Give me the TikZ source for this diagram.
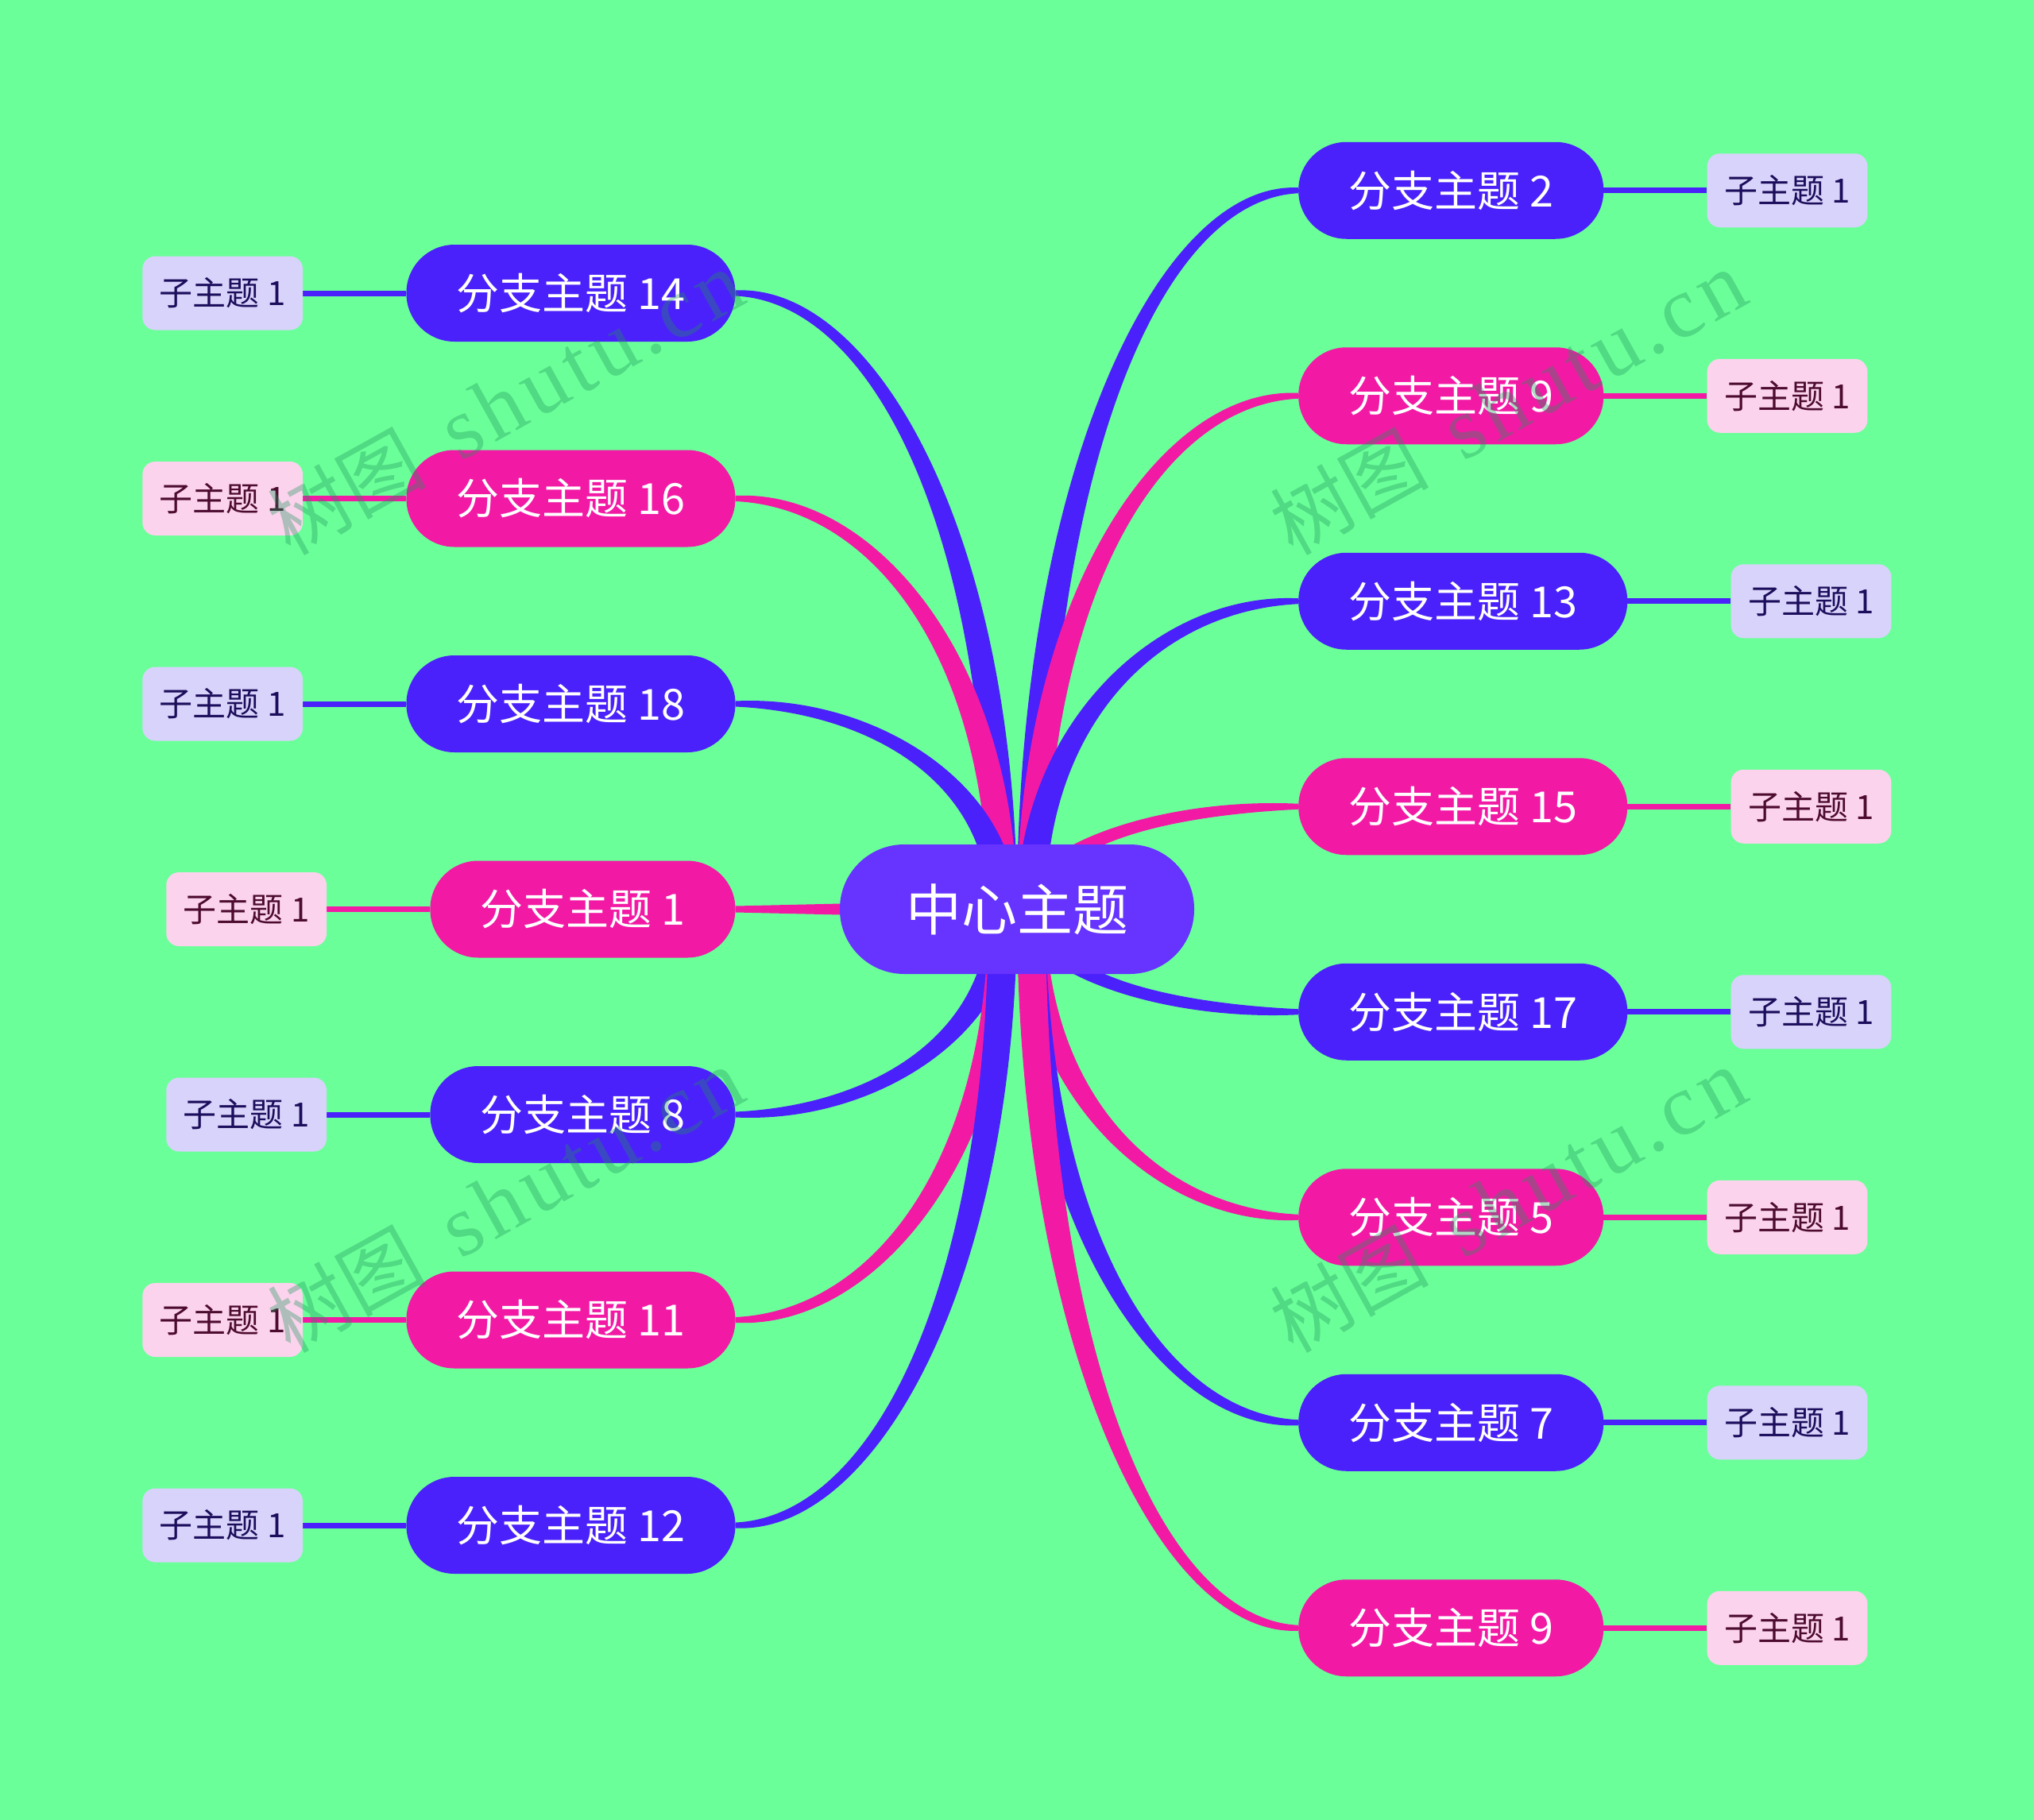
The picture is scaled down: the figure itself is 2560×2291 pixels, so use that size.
\documentclass[tikz,border=0pt]{standalone}
\usepackage{fontspec}
\setmainfont{Noto Sans CJK SC}
\newfontfamily\cjkfont{Noto Sans CJK SC}
\newfontfamily\wmserif[LetterSpace=6]{Liberation Serif}
\usetikzlibrary{positioning,calc,backgrounds}
\definecolor{bgc}{HTML}{6AFF99}
\definecolor{bblue}{HTML}{4A21FA}
\definecolor{bpink}{HTML}{F21AA5}
\definecolor{cpurple}{HTML}{6633FF}
\definecolor{sblue}{HTML}{D8D3FA}
\definecolor{spink}{HTML}{FBD3EC}
\definecolor{tblue}{HTML}{1C0E5C}
\definecolor{tpink}{HTML}{4D0B30}
\definecolor{wmc}{HTML}{1E965A}
\newcommand\tconn[2]{%
  \fill[#1] let \p1=(c.center), \p2=(#2),
    \n1={sign(\x2-\x1)*36}, \n2={sign(\y2-\y1)*3.5}, \n5={sign(\y2-\y1)*12},
    \n3={\y1+0.6*(\y2-\y1)}, \n4={\x1+0.5*(\x2-\x1)} in
    (\x1,\y1) .. controls (\x1,{\n3*1pt}) and ({\n4*1pt},{\y2+\n5*1pt}) .. (\x2,{\y2+\n2*1pt})
    -- (\x2,{\y2-\n2*1pt}) .. controls ({\n4*1pt},{\y2-\n5*1pt}) and ({\x1+\n1*1pt},{\n3*1pt}) .. ({\x1+\n1*1pt},\y1) -- cycle;}
\newcommand\wmtext{{\fontsize{100}{110}\selectfont\cjkfont 树图}\hspace{45pt}{\fontsize{110}{120}\selectfont\wmserif shutu.cn}}
\begin{document}
\begin{tikzpicture}[x=1pt,y=-1pt,
  centerbox/.style={fill=cpurple, rounded corners=81pt, minimum height=163pt, inner xsep=83pt, inner ysep=0pt, text=white, font=\fontsize{70}{80}\selectfont},
  branchbox/.style={fill=#1, rounded corners=60.5pt, minimum height=122pt, inner xsep=63pt, inner ysep=0pt, text=white, font=\fontsize{54}{60}\selectfont},
  subb/.style={fill=sblue, text=tblue, rounded corners=16pt, minimum height=93pt, inner xsep=21.5pt, inner ysep=0pt, font=\fontsize{42}{48}\selectfont},
  subp/.style={subb, fill=spink, text=tpink},
  linkb/.style={draw=bblue, line width=7pt},
  linkp/.style={draw=bpink, line width=7pt},
  wmark/.style={text=wmc, text opacity=0.35, rotate=29, inner sep=0pt}
]
\useasboundingbox (0,0) rectangle (2560,2291);
% centre
\node[centerbox] (c) at (1280,1144.5) {中心主题};
% right branches
\node[branchbox=bblue, anchor=west] (r0) at (1634,239.75) {分支主题 2};
\node[branchbox=bpink, anchor=west] (r1) at (1634,498.25) {分支主题 9};
\node[branchbox=bblue, anchor=west] (r2) at (1634,756.75) {分支主题 13};
\node[branchbox=bpink, anchor=west] (r3) at (1634,1015.25) {分支主题 15};
\node[branchbox=bblue, anchor=west] (r4) at (1634,1273.75) {分支主题 17};
\node[branchbox=bpink, anchor=west] (r5) at (1634,1532.25) {分支主题 5};
\node[branchbox=bblue, anchor=west] (r6) at (1634,1790.75) {分支主题 7};
\node[branchbox=bpink, anchor=west] (r7) at (1634,2049.25) {分支主题 9};
% left branches
\node[branchbox=bblue, anchor=east] (l0) at (925.7,369) {分支主题 14};
\node[branchbox=bpink, anchor=east] (l1) at (925.7,627.5) {分支主题 16};
\node[branchbox=bblue, anchor=east] (l2) at (925.7,886) {分支主题 18};
\node[branchbox=bpink, anchor=east] (l3) at (925.7,1144.5) {分支主题 1};
\node[branchbox=bblue, anchor=east] (l4) at (925.7,1403) {分支主题 8};
\node[branchbox=bpink, anchor=east] (l5) at (925.7,1661.5) {分支主题 11};
\node[branchbox=bblue, anchor=east] (l6) at (925.7,1920) {分支主题 12};
% subtopics right
\node[subb, right=130pt of r0] (sr0) {子主题 1};
\node[subp, right=130pt of r1] (sr1) {子主题 1};
\node[subb, right=130pt of r2] (sr2) {子主题 1};
\node[subp, right=130pt of r3] (sr3) {子主题 1};
\node[subb, right=130pt of r4] (sr4) {子主题 1};
\node[subp, right=130pt of r5] (sr5) {子主题 1};
\node[subb, right=130pt of r6] (sr6) {子主题 1};
\node[subp, right=130pt of r7] (sr7) {子主题 1};
% subtopics left
\node[subb, left=130pt of l0] (sl0) {子主题 1};
\node[subp, left=130pt of l1] (sl1) {子主题 1};
\node[subb, left=130pt of l2] (sl2) {子主题 1};
\node[subp, left=130pt of l3] (sl3) {子主题 1};
\node[subb, left=130pt of l4] (sl4) {子主题 1};
\node[subp, left=130pt of l5] (sl5) {子主题 1};
\node[subb, left=130pt of l6] (sl6) {子主题 1};
\begin{pgfonlayer}{background}
\fill[bgc] (0,0) rectangle (2560,2291);
% branch to subtopic links
\draw[linkb] (r0.east) -- (sr0.west);
\draw[linkp] (r1.east) -- (sr1.west);
\draw[linkb] (r2.east) -- (sr2.west);
\draw[linkp] (r3.east) -- (sr3.west);
\draw[linkb] (r4.east) -- (sr4.west);
\draw[linkp] (r5.east) -- (sr5.west);
\draw[linkb] (r6.east) -- (sr6.west);
\draw[linkp] (r7.east) -- (sr7.west);
\draw[linkb] (l0.west) -- (sl0.east);
\draw[linkp] (l1.west) -- (sl1.east);
\draw[linkb] (l2.west) -- (sl2.east);
\draw[linkp] (l3.west) -- (sl3.east);
\draw[linkb] (l4.west) -- (sl4.east);
\draw[linkp] (l5.west) -- (sl5.east);
\draw[linkb] (l6.west) -- (sl6.east);
% tapered connectors from centre
\tconn{bblue}{r0.west}
\tconn{bpink}{r1.west}
\tconn{bblue}{r2.west}
\tconn{bpink}{r3.west}
\tconn{bblue}{r4.west}
\tconn{bpink}{r5.west}
\tconn{bblue}{r6.west}
\tconn{bpink}{r7.west}
\tconn{bblue}{l0.east}
\tconn{bpink}{l1.east}
\tconn{bblue}{l2.east}
\tconn{bblue}{l4.east}
\tconn{bpink}{l5.east}
\tconn{bblue}{l6.east}
\fill[bpink] let \p1=(c.center), \p2=(l3.east) in
  (\x1,{\y1+12pt}) -- (\x2,{\y2+4pt}) -- (\x2,{\y2-4pt}) -- (\x1,{\y1-12pt}) -- cycle;
\end{pgfonlayer}
% watermarks
\node[wmark] (w0) at (636,507) {\wmtext};
\node[wmark] (w1) at (1898,507) {\wmtext};
\node[wmark] (w2) at (636,1511) {\wmtext};
\node[wmark] (w3) at (1898,1511) {\wmtext};
\end{tikzpicture}
\end{document}
